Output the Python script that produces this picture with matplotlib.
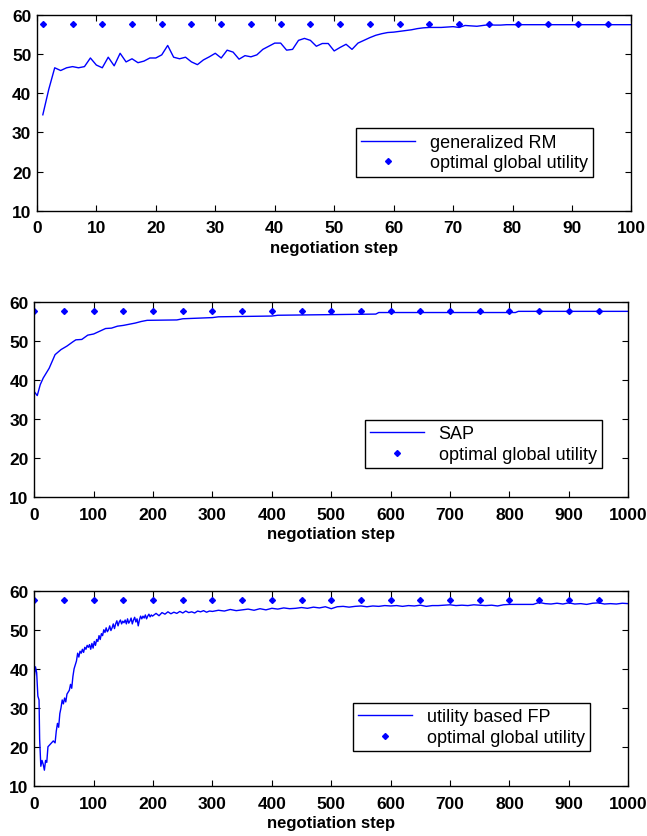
import matplotlib.pyplot as plt
import numpy as np

plt.rcParams['font.family'] = ['Liberation Sans', 'DejaVu Sans']

# panel 1: generalized RM, steps 1..100
x1 = list(range(1, 101))
y1 = [34.5, 41, 46.5, 45.8, 46.5, 46.8, 46.5, 46.8, 49, 47.2,
      46.5, 49.2, 47, 50.2, 48, 48.8, 47.8, 48.2, 49, 49,
      49.8, 52.2, 49.2, 48.8, 49.2, 48, 47.3, 48.5, 49.3, 50.2,
      49, 51, 50.5, 48.7, 49.6, 49.3, 49.8, 51.2, 52, 52.8,
      52.8, 51, 51.2, 53.5, 54, 53.5, 52, 52.7, 52.7, 50.8,
      51.7, 52.5, 51.2, 52.8, 53.5, 54.2, 54.8, 55.2, 55.5, 55.6,
      55.8, 56, 56.2, 56.5, 56.7, 56.8, 56.8, 56.8, 56.9, 57,
      56.8, 57.3, 57.2, 57.1, 57.3, 57.5, 57.4, 57.4, 57.5, 57.5,
      57.5, 57.5, 57.5, 57.5, 57.5, 57.5, 57.5, 57.5, 57.5, 57.5,
      57.5, 57.5, 57.5, 57.5, 57.5, 57.5, 57.5, 57.5, 57.5, 57.5]
opt1_x = list(range(1, 100, 5))

# panel 2: SAP, steps 0..1000
x2 = [0, 5, 10, 15, 25, 35, 45, 55, 65, 70, 80, 90, 100, 110, 120, 130,
      140, 150, 160, 170, 180, 190, 240, 250, 300, 310, 400, 410, 575,
      580, 810, 815, 1000]
y2 = [37, 36, 38.8, 40.5, 43, 46.5, 47.8, 48.7, 49.8, 50.3, 50.4, 51.5,
      51.8, 52.5, 53.2, 53.3, 53.8, 54, 54.3, 54.6, 55.0, 55.3, 55.4,
      55.7, 56.0, 56.2, 56.4, 56.6, 56.9, 57.3, 57.3, 57.6, 57.6]
opt2_x = list(range(0, 1000, 50))

# panel 3: utility based FP, steps 0..1000
x3 = [0, 2, 4, 6, 8, 9, 11, 13, 15, 17, 19, 21, 23, 26, 29, 32, 35, 37,
      39, 41, 43, 45, 47, 49, 51, 53, 55, 57, 59, 61, 63, 65, 67, 69, 71,
      73, 75, 77, 79, 81, 83, 85, 87, 89, 91, 93, 95, 97, 99, 101, 103,
      105, 107, 109, 111, 113, 115, 117, 119, 121, 123, 125, 127, 129,
      131, 133, 135, 137, 139, 141, 143, 145, 147, 149, 151, 153, 155,
      157, 159, 161, 163, 165, 167, 169, 171, 173, 175, 177, 179, 181,
      183, 185, 187, 189, 191, 193, 195, 197, 199,
      205, 210, 215, 220, 225, 230, 235, 240, 245, 250, 255, 260, 265,
      270, 275, 280, 285, 290, 295, 300, 310, 320, 330, 340, 350, 360,
      370, 380, 390, 400, 410, 420, 430, 440, 450, 460, 470, 480, 490,
      500, 510, 520, 530, 540, 550, 560, 570, 580, 590, 600, 610, 620,
      630, 640, 650, 660, 670, 680, 690, 700, 710, 720, 730, 740, 750,
      760, 770, 780, 790, 800, 820, 840, 850, 860, 870, 880, 890, 900,
      910, 920, 930, 940, 950, 960, 970, 980, 990, 1000]
y3 = [38, 40.5, 39, 33, 32, 22, 15, 16.5, 15.5, 14, 16.5, 16, 20, 20.5,
      21, 21.5, 21, 24, 26, 25, 28.5, 30, 32, 31, 32.5, 31.5, 33.5, 34,
      34.5, 36, 35, 38, 40, 41, 42, 44, 43, 44.5, 44, 45, 44.2, 45.5, 45,
      46, 45.5, 46.2, 45, 46.5, 45.3, 47, 46, 47.5, 47, 48.5, 47.5, 49,
      48.5, 50, 49.3, 50.5, 49.5, 50, 51, 49.8, 50.5, 51.5, 50.3, 51.5,
      52.3, 51, 52, 52.5, 51.5, 52.2, 51.8, 52.5, 51.5, 52.8, 51.7, 52.2,
      53, 51.5, 52.5, 53.2, 52, 52.8, 51, 52.5, 53.5, 52.8, 53.5, 53,
      53.8, 52.8, 53.5, 54, 53.3, 53.8, 53.5,
      54.2, 53.6, 54.4, 54.0, 54.6, 54.1, 54.5, 54.2, 54.7, 54.3, 54.8,
      54.4, 54.6, 54.3, 54.8, 54.6, 54.9, 54.5, 54.8, 54.7, 55.0, 54.8,
      55.2, 54.9, 55.1, 55.3, 55.0, 55.4, 55.1, 55.5, 55.3, 55.6, 55.4,
      55.5, 55.7, 55.5, 55.8, 55.6, 55.9, 55.4, 55.9, 56.0, 55.8, 56.0,
      56.1, 55.9, 56.1, 56.0, 56.2, 56.1, 56.2, 56.0, 56.2, 56.1, 56.3,
      56.0, 56.2, 56.2, 56.3, 56.4, 56.2, 56.3, 56.2, 56.4, 56.3, 56.2,
      56.3, 56.1, 56.4, 56.5, 56.5, 56.5, 57.0, 56.7, 56.6, 56.8, 56.6,
      56.9, 56.6, 56.7, 56.5, 56.8, 56.9, 56.6, 56.7, 56.6, 56.8, 56.7]
opt3_x = list(range(0, 1000, 50))

opt_value = 57.6

panels = [
    (x1, y1, opt1_x, 'generalized RM', (0, 100), list(range(0, 101, 10)),
     [0.057, 0.747, 0.919, 0.234], (0.536, 0.173, 0.399, 0.296)),
    (x2, y2, opt2_x, 'SAP', (0, 1000), list(range(0, 1001, 100)),
     [0.053, 0.405, 0.918, 0.233], (0.556, 0.147, 0.399, 0.303)),
    (x3, y3, opt3_x, 'utility based FP', (0, 1000), list(range(0, 1001, 100)),
     [0.053, 0.06, 0.918, 0.233], (0.536, 0.176, 0.400, 0.300)),
]

fig = plt.figure(figsize=(6.47, 8.37), dpi=100)

for xs, ys, ox, name, xlim, xt, rect, bb in panels:
    ax = fig.add_axes(rect)
    ax.plot(xs, ys, color='#0000ff', lw=1.0, label=name)
    ax.plot(ox, [opt_value] * len(ox), ls='none', marker='D', ms=3,
            color='#0000ff', label='optimal global utility')
    ax.set_xlim(*xlim)
    ax.set_ylim(10, 60)
    ax.set_xticks(xt)
    ax.set_yticks(range(10, 61, 10))
    ax.tick_params(direction='in', length=4, top=True, right=True,
                   labelsize=12.5)
    ax.tick_params(axis='x', pad=7)
    ax.tick_params(axis='y', pad=4)
    for lab in ax.get_xticklabels() + ax.get_yticklabels():
        lab.set_fontweight('bold')
    for s in ax.spines.values():
        s.set_linewidth(1.0)
    ax.set_xlabel('negotiation step', fontsize=12, fontweight='bold', labelpad=3)
    leg = ax.legend(loc='lower left', bbox_to_anchor=bb, mode='expand',
                    fancybox=False, framealpha=1, edgecolor='black',
                    fontsize=13, handlelength=3.0, borderaxespad=0,
                    labelspacing=0.2, borderpad=0.3)
    leg.get_frame().set_linewidth(1.0)

fig.savefig('out.png', dpi=100)
